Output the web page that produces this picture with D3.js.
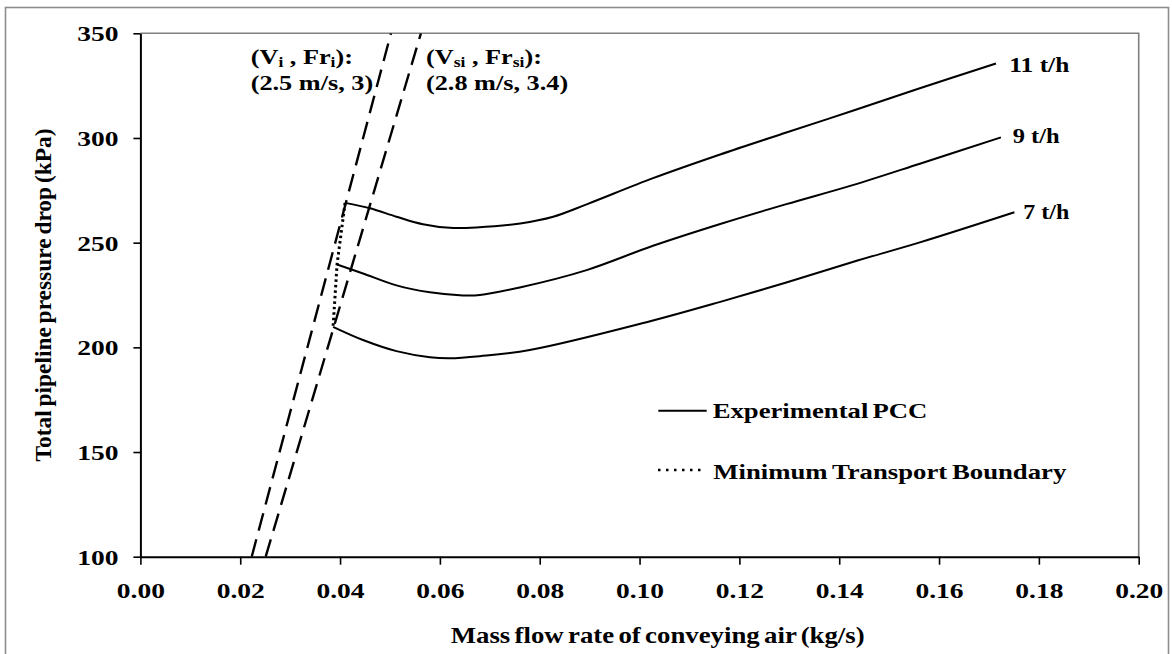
<!DOCTYPE html>
<html>
<head>
<meta charset="utf-8">
<script src="https://cdn.jsdelivr.net/npm/d3@7"></script>
<style>
  html, body { margin: 0; padding: 0; background: #fff; }
  svg { display: block; }
  text { font-family: "Liberation Serif", "Times New Roman", serif; font-weight: bold; fill: #000; }
</style>
</head>
<body>
<svg id="chart" width="1172" height="654"></svg>
<script>
// ---------- data ----------
const xTicks = [0, 0.02, 0.04, 0.06, 0.08, 0.10, 0.12, 0.14, 0.16, 0.18, 0.20];
const yTicks = [100, 150, 200, 250, 300, 350];

const flow11 = [0.0410, 0.0460, 0.0513, 0.0566, 0.0620, 0.0673, 0.0761, 0.0827, 0.0894, 0.1027, 0.1160, 0.1294, 0.1427, 0.1560, 0.1714];
const dp11   = [269.0, 266.4, 262.4, 258.8, 257.1, 257.3, 259.2, 262.4, 268.3, 280.8, 292.0, 302.6, 313.0, 323.6, 335.6];

const flow9 = [0.0394, 0.0446, 0.0513, 0.0580, 0.0646, 0.0680, 0.0760, 0.0894, 0.1027, 0.1160, 0.1294, 0.1427, 0.1560, 0.1724];
const dp9   = [239.6, 235.3, 229.6, 226.3, 224.8, 225.0, 228.6, 236.9, 248.5, 258.8, 268.4, 277.5, 287.6, 300.3];

const flow7 = [0.0386, 0.0446, 0.0513, 0.0580, 0.0620, 0.0680, 0.0780, 0.1014, 0.1160, 0.1294, 0.1427, 0.1560, 0.1751];
const dp7   = [209.8, 203.5, 198.2, 195.3, 194.8, 195.8, 198.7, 212.0, 221.6, 231.0, 240.8, 250.0, 264.5];

const seriesNames = ["11 t/h", "9 t/h", "7 t/h"];

// boundary lines (Vi, Fri) and (Vsi, Frsi)
const boundaryViFlow  = [0.0223, 0.0502];
const boundaryViDp    = [100, 350];
const boundaryVsiFlow = [0.0251, 0.0562];
const boundaryVsiDp   = [100, 350];

const legendLabels = ["Experimental PCC", "Minimum Transport Boundary"];
const xTitle = "Mass flow rate of conveying air (kg/s)";
const yTitle = "Total pipeline pressure drop (kPa)";

// ---------- layout ----------
const svg = d3.select("#chart");
const L = 140.4, R = 1138.7, T = 33.3, B = 556.7;
const x = d3.scaleLinear().domain([0, 0.2]).range([L, R]);
const y = d3.scaleLinear().domain([100, 350]).range([B, T]);
const SX = 1.25; // horizontal stretch of the reference's lettering

// outer frame
svg.append("rect").attr("x", 5.5).attr("y", 7.5).attr("width", 1163).attr("height", 660)
  .attr("fill", "none").attr("stroke", "#8c8c8c").attr("stroke-width", 1.6);

// plot frame (top & right, grey)
svg.append("path")
  .attr("d", `M${L},${T}H${R}V${B}`)
  .attr("fill", "none").attr("stroke", "#808080").attr("stroke-width", 1.6);

// axes
const gx = svg.append("g").attr("transform", `translate(0,${B})`)
  .call(d3.axisBottom(x).tickValues(xTicks).tickSize(8).tickSizeOuter(0).tickFormat(d3.format(".2f")));
gx.select(".domain").attr("stroke", "#000").attr("stroke-width", 2);
gx.selectAll(".tick line").attr("stroke", "#000").attr("stroke-width", 1.6);
gx.selectAll(".tick text")
  .attr("y", 41.6).attr("dy", null)
  .attr("transform", `scale(${SX},1)`)
  .style("font-size", "22px").style("font-family", "'Liberation Serif', serif").style("font-weight", "bold");

const gy = svg.append("g").attr("transform", `translate(${L},0)`)
  .call(d3.axisLeft(y).tickValues(yTicks).tickSize(7).tickSizeOuter(0));
gy.select(".domain").attr("stroke", "#000").attr("stroke-width", 2);
gy.selectAll(".tick line").attr("stroke", "#000").attr("stroke-width", 1.6);
gy.selectAll(".tick text")
  .attr("x", -21.8 / SX).attr("y", 7.4).attr("dy", null)
  .attr("transform", `scale(${SX},1)`)
  .style("font-size", "22px").style("font-family", "'Liberation Serif', serif").style("font-weight", "bold");

// clip
svg.append("clipPath").attr("id", "plotclip").append("rect")
  .attr("x", L).attr("y", T).attr("width", R - L).attr("height", B - T);
const plot = svg.append("g").attr("clip-path", "url(#plotclip)");

// dashed boundary lines
const straight = d3.line().x(d => x(d[0])).y(d => y(d[1]));
[[boundaryViFlow, boundaryViDp], [boundaryVsiFlow, boundaryVsiDp]].forEach(([f, p]) => {
  plot.append("path").attr("d", straight(d3.zip(f, p)))
    .attr("fill", "none").attr("stroke", "#000").attr("stroke-width", 2.4)
    .attr("stroke-dasharray", "18,9");
});

// PCC curves
const smooth = d3.line().x(d => x(d[0])).y(d => y(d[1])).curve(d3.curveCatmullRom.alpha(0.5));
const curves = [d3.zip(flow11, dp11), d3.zip(flow9, dp9), d3.zip(flow7, dp7)];
curves.forEach(c => {
  plot.append("path").attr("d", smooth(c))
    .attr("fill", "none").attr("stroke", "#000").attr("stroke-width", 2);
});

// minimum transport boundary (through the first point of each curve)
const mtb = curves.map(c => c[0]);
plot.append("path").attr("d", straight(mtb))
  .attr("fill", "none").attr("stroke", "#000").attr("stroke-width", 3)
  .attr("stroke-dasharray", "2.5,3");

// helper for stretched text
function label(px, py, str, size, width) {
  const t = svg.append("text").attr("x", px).attr("y", py).style("font-size", size + "px").text(str);
  if (width) t.attr("textLength", width).attr("lengthAdjust", "spacingAndGlyphs");
  return t;
}

// curve labels
const labelPos = [[1009.3, 71.7, 60], [1012.7, 142.7, 47], [1023.3, 219.3, 46]];
seriesNames.forEach((n, i) => label(labelPos[i][0], labelPos[i][1], n, 21, labelPos[i][2]));

// annotations
function subText(px, py, parts) {
  const t = svg.append("text").attr("transform", `translate(${px},${py}) scale(${SX},1)`).style("font-size", "21px");
  parts.forEach(p => {
    const s = t.append("tspan").text(p[0]);
    if (p[1]) s.style("font-size", "14px").attr("dy", 3);
    else if (p[2]) s.attr("dy", -3);
  });
  return t;
}
subText(250.7, 64.3, [["(V"], ["i", true], [" , Fr", false, true], ["i", true], ["):", false, true]]);
subText(250.7, 90, [["(2.5 m/s, 3)"]]);
subText(426, 64.3, [["(V"], ["si", true], [" , Fr", false, true], ["si", true], ["):", false, true]]);
subText(426, 90, [["(2.8 m/s, 3.4)"]]);

// legend
svg.append("line").attr("x1", 658.3).attr("x2", 706.7).attr("y1", 410.7).attr("y2", 410.7)
  .attr("stroke", "#000").attr("stroke-width", 2);
svg.append("line").attr("x1", 658).attr("x2", 704).attr("y1", 470).attr("y2", 470)
  .attr("stroke", "#000").attr("stroke-width", 2.4).attr("stroke-dasharray", "2.5,5.5");
label(712.7, 418.3, legendLabels[0], 21, 214.6).style("word-spacing", "-2px");
label(713.3, 479.3, legendLabels[1], 21, 353).style("word-spacing", "-1.5px");

// axis titles
label(450.7, 642.7, xTitle, 22.5, 414).style("word-spacing", "-2px");
svg.append("text").attr("transform", "translate(50.5,295) rotate(-90)")
  .attr("text-anchor", "middle").style("font-size", "23px").style("word-spacing", "-2px")
  .attr("textLength", 333).attr("lengthAdjust", "spacingAndGlyphs")
  .text(yTitle);
</script>
</body>
</html>
